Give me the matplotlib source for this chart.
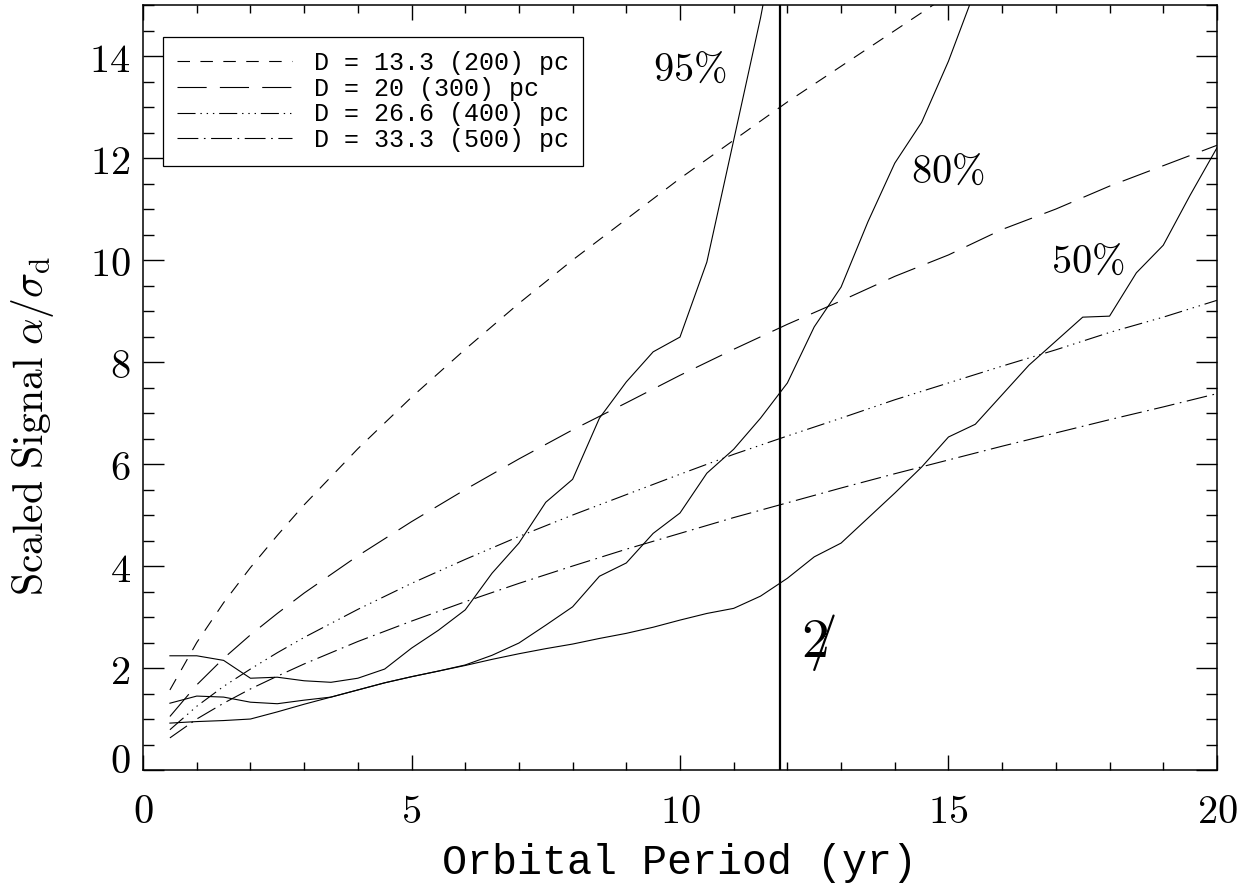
import matplotlib
matplotlib.use("Agg")
import matplotlib.pyplot as plt
import matplotlib.transforms as mtransforms
from matplotlib.ticker import MultipleLocator, FuncFormatter

plt.rcParams['mathtext.fontset'] = 'cm'
plt.rcParams['lines.scale_dashes'] = False

# distance curves (signal for a Jupiter-mass planet at distance D)
period_d = [0.5, 1, 1.5, 2, 2.5, 3, 4, 5, 6, 7, 8, 9, 10, 11, 12, 13, 14, 15, 16, 17, 18, 19, 20]
d200 = [1.57, 2.50, 3.28, 3.97, 4.60, 5.20, 6.30, 7.31, 8.25, 9.15, 10.0, 10.8, 11.6, 12.35, 13.1, 13.8, 14.5, 15.2, 15.9, 16.6, 17.2, 17.8, 18.4]
d300 = [1.05, 1.67, 2.19, 2.65, 3.07, 3.47, 4.20, 4.87, 5.50, 6.10, 6.67, 7.20, 7.74, 8.25, 8.74, 9.20, 9.68, 10.1, 10.6, 11.0, 11.45, 11.85, 12.25]
d400 = [0.79, 1.25, 1.64, 1.98, 2.30, 2.60, 3.15, 3.66, 4.13, 4.58, 5.00, 5.40, 5.80, 6.19, 6.55, 6.90, 7.26, 7.59, 7.92, 8.24, 8.58, 8.88, 9.21]
d500 = [0.63, 1.00, 1.31, 1.59, 1.84, 2.08, 2.52, 2.92, 3.30, 3.66, 4.00, 4.33, 4.64, 4.95, 5.24, 5.53, 5.81, 6.08, 6.35, 6.61, 6.87, 7.12, 7.38]
d_labels = ["D = 13.3 (200) pc", "D = 20 (300) pc", "D = 26.6 (400) pc", "D = 33.3 (500) pc"]

# detection thresholds (solid)
period_50 = [0.5, 1.0, 1.5, 2.0, 2.5, 3.0, 3.5, 4.0, 4.5, 5.0, 5.5, 6.0, 6.5, 7.0, 7.5, 8.0, 8.5, 9.0, 9.5, 10.0,
             10.5, 11.0, 11.5, 12.0, 12.5, 13.0, 13.5, 14.0, 14.5, 15.0, 15.5, 16.0, 16.5, 17.0, 17.5, 18.0, 18.5, 19.0, 19.5, 20.0]
sig_50 = [0.92, 0.95, 0.97, 1.00, 1.14, 1.29, 1.43, 1.57, 1.71, 1.83, 1.94, 2.05, 2.17, 2.28, 2.38, 2.47, 2.58, 2.68, 2.80, 2.94,
          3.07, 3.17, 3.41, 3.76, 4.18, 4.45, 4.94, 5.43, 5.94, 6.53, 6.78, 7.36, 7.94, 8.41, 8.88, 8.90, 9.75, 10.29, 11.27, 12.2]
period_80 = [0.5, 1.0, 1.5, 2.0, 2.5, 3.0, 3.5, 4.0, 4.5, 5.0, 5.5, 6.0, 6.5, 7.0, 7.5, 8.0, 8.5, 9.0, 9.5, 10.0,
             10.5, 11.0, 11.5, 12.0, 12.5, 13.0, 13.5, 14.0, 14.5, 15.0, 15.5]
sig_80 = [1.31, 1.45, 1.43, 1.33, 1.30, 1.37, 1.43, 1.57, 1.71, 1.83, 1.94, 2.06, 2.25, 2.49, 2.84, 3.20, 3.80, 4.06, 4.64, 5.04,
          5.82, 6.29, 6.90, 7.59, 8.69, 9.47, 10.75, 11.9, 12.7, 13.9, 15.3]
period_95 = [0.5, 1.0, 1.5, 2.0, 2.5, 3.0, 3.5, 4.0, 4.5, 5.0, 5.5, 6.0, 6.5, 7.0, 7.5, 8.0, 8.5, 9.0, 9.5, 10.0,
             10.5, 11.0, 11.5, 12.0]
sig_95 = [2.24, 2.24, 2.15, 1.80, 1.82, 1.75, 1.72, 1.80, 1.98, 2.39, 2.74, 3.14, 3.86, 4.45, 5.25, 5.70, 6.90, 7.61, 8.20, 8.49,
          9.96, 12.35, 14.75, 17.5]

jupiter_period = 11.86

fig = plt.figure(figsize=(12.56, 8.86), dpi=100)
ax = fig.add_axes([0.1139, 0.1309, 0.855, 0.8634])

lw = 0.8
ax.plot(period_d, d200, color='k', lw=lw, dashes=(9, 7.5), label=d_labels[0])
ax.plot(period_d, d300, color='k', lw=lw, dashes=(21, 9.5), label=d_labels[1])
ax.plot(period_d, d400, color='k', lw=lw, dashes=(13, 3.5, 1, 3.5, 1, 3.5, 1, 3.5), label=d_labels[2])
ax.plot(period_d, d500, color='k', lw=lw, dashes=(15, 4, 1.2, 4), label=d_labels[3])

ax.plot(period_50, sig_50, color='k', lw=lw)
ax.plot(period_80, sig_80, color='k', lw=lw)
ax.plot(period_95, sig_95, color='k', lw=lw)

ax.axvline(jupiter_period, color='k', lw=1.6)

pct_font = 29
ax.text(10.19, 13.73, r'$95\%$', fontsize=pct_font, ha='center', va='center')
ax.text(14.99, 11.73, r'$80\%$', fontsize=pct_font, ha='center', va='center')
ax.text(17.6, 9.96, r'$50\%$', fontsize=pct_font, ha='center', va='center')
# Jupiter sign, Hershey-style: a "2" crossed by a stroke
ax.text(12.57, 2.5, r'$2\hspace{-0.4}/$', fontsize=40, ha='center', va='center')

ax.set_xlim(0, 20)
ax.set_ylim(0, 15)
ax.xaxis.set_major_locator(MultipleLocator(5))
ax.xaxis.set_minor_locator(MultipleLocator(1))
ax.yaxis.set_major_locator(MultipleLocator(2))
ax.yaxis.set_minor_locator(MultipleLocator(0.5))
fmt = FuncFormatter(lambda v, pos: r'$%d$' % round(v))
ax.xaxis.set_major_formatter(fmt)
ax.yaxis.set_major_formatter(fmt)

ax.tick_params(axis='x', which='major', direction='in', length=11, width=1, top=True, labelsize=29, pad=16)
ax.tick_params(axis='x', which='minor', direction='in', length=5.5, width=1, top=True)
ax.tick_params(axis='y', which='major', direction='in', length=15, width=1, right=True, labelsize=29, pad=9)
ax.tick_params(axis='y', which='minor', direction='in', length=8, width=1, right=True)
for s in ax.spines.values():
    s.set_linewidth(1.1)

# the zero label on the y axis sits a little above the corner
fig.canvas.draw()
for lab in ax.get_yticklabels():
    if lab.get_text() == r'$0$':
        lab.set_transform(lab.get_transform() + mtransforms.ScaledTranslation(0, 0.13, fig.dpi_scale_trans))

ax.set_xlabel('Orbital Period (yr)', family='Liberation Mono', fontsize=30, labelpad=8)
ax.set_ylabel(r'$\mathrm{Scaled\ Signal}\ \alpha/\sigma_{\mathrm{d}}$', fontsize=30)
ax.yaxis.set_label_coords(-0.081, 0.45)

leg = ax.legend(loc='upper left', bbox_to_anchor=(0.0186, 0.958), borderaxespad=0,
                prop={'family': 'Liberation Mono', 'size': 18}, fancybox=False,
                edgecolor='k', framealpha=1, handlelength=4.6, handletextpad=0.9,
                labelspacing=0.07, borderpad=0.55)
leg.get_frame().set_linewidth(0.9)

fig.savefig('out.png', dpi=100)
